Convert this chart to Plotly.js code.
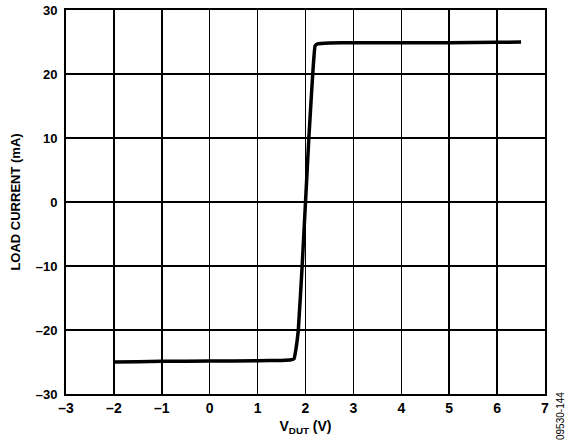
<!DOCTYPE html>
<html>
<head>
<meta charset="utf-8">
<script src="https://cdn.plot.ly/plotly-3.0.1.min.js"></script>
<style>
html,body{margin:0;padding:0;background:#fff;}#chart{width:566px;height:448px;}
.xtick text, .ytick text, .g-xtitle text, .g-ytitle text {font-weight: bold !important;}
</style>
</head>
<body>
<div id="chart"></div>
<script>
const vdut = [-2, -1.5, -1, 0, 1, 1.5, 1.7, 1.76, 1.8, 1.85, 1.93, 2.0, 2.07, 2.13, 2.16, 2.2, 2.25, 2.5, 3, 4, 5, 6, 6.5];
const loadCurrent = [-25, -24.95, -24.9, -24.85, -24.8, -24.75, -24.65, -24.5, -23, -20, -10, 0, 10, 17.5, 21, 24.4, 24.7, 24.85, 24.9, 24.9, 24.9, 24.95, 25];
const xTickVals = [-3, -2, -1, 0, 1, 2, 3, 4, 5, 6, 7];
const xTickText = ['–3', '–2', '–1', '0', '1', '2', '3', '4', '5', '6', '7'];
const yTickVals = [-30, -20, -10, 0, 10, 20, 30];
const yTickText = ['–30', '–20', '–10', '0', '10', '20', '30'];

const fam = 'Liberation Sans, Arial, sans-serif';
const trace = {
  x: vdut, y: loadCurrent, type: 'scatter', mode: 'lines',
  line: {color: '#000', width: 3.5, shape: 'spline', smoothing: 0.3},
  hoverinfo: 'skip'
};
const layout = {
  width: 566, height: 448,
  margin: {l: 66, r: 21, t: 10, b: 54},
  paper_bgcolor: '#fff', plot_bgcolor: '#fff',
  showlegend: false,
  font: {family: fam, size: 13, color: '#000'},
  xaxis: {
    range: [-3, 7], tickvals: xTickVals, ticktext: xTickText,
    showgrid: true, gridcolor: '#000', gridwidth: 1.5,
    zeroline: false, showline: true, linecolor: '#000', linewidth: 2, mirror: true,
    ticks: '', tickfont: {family: fam, size: 14, color: '#000', weight: 'bold'},
    title: {text: '<b>V<sub>DUT</sub> (V)</b>', font: {family: fam, size: 14, color: '#000'}, standoff: 6}
  },
  yaxis: {
    range: [-30, 30], tickvals: yTickVals, ticktext: yTickText,
    showgrid: true, gridcolor: '#000', gridwidth: 1.5,
    zeroline: false, showline: true, linecolor: '#000', linewidth: 2, mirror: true,
    ticks: '', ticklabelstandoff: 4, tickfont: {family: fam, size: 13, color: '#000', weight: 'bold'},
    title: {text: '<b>LOAD CURRENT (mA)</b>', font: {family: fam, size: 13, color: '#000'}, standoff: 12}
  },
  annotations: [{
    text: '09530-144', xref: 'paper', yref: 'paper', x: 1.0, y: 0,
    xanchor: 'center', yanchor: 'middle', xshift: 15, yshift: -22, textangle: -90, showarrow: false,
    font: {family: fam, size: 10, color: '#000'}
  }]
};
Plotly.newPlot('chart', [trace], layout, {displayModeBar: false, staticPlot: true});
</script>
</body>
</html>
